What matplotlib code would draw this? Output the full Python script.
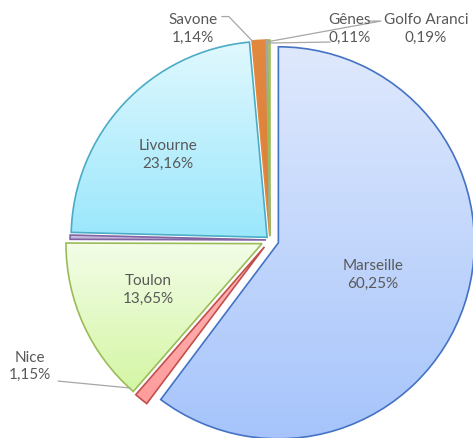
import numpy as np
import matplotlib
matplotlib.use("Agg")
import matplotlib.pyplot as plt
from matplotlib.colors import LinearSegmentedColormap

# Data (share of traffic per port, %)
ports = ["Marseille", "Nice", "Toulon", "", "Livourne", "Savone", "Gênes", "Golfo Aranci"]
shares = [60.25, 1.15, 13.65, 0.35, 23.16, 1.14, 0.11, 0.19]
pct_labels = ["60,25%", "1,15%", "13,65%", "", "23,16%", "1,14%", "0,11%", "0,19%"]

# Style
explode = [0.045, 0.045, 0.045, 0.02, 0.02, 0.02, 0.02, 0.02]
grad_top = ["#dfe9fd", "#ffb5b5", "#f3fde8", "#d3c7e6", "#e0f8fe", "#e2883f", "#b8b8b8", "#c9e2a8"]
grad_bot = ["#a6c4fb", "#ff9c9c", "#d4f6a4", "#b6a4d4", "#9be7fc", "#d9803a", "#a8a8a8", "#bcd894"]
edges = ["#4472c4", "#c0504d", "#9bbb59", "#8064a2", "#4bacc6", "#e7873a", "#a5a5a5", "#9bbb59"]
TXT = "#595959"
FS = 11
plt.rcParams["font.family"] = ["Lato", "DejaVu Sans"]

fig = plt.figure(figsize=(4.73, 4.39), dpi=100)
ax = fig.add_axes([0, 0, 1, 1])

wedges, _ = ax.pie(shares, explode=explode, startangle=90, counterclock=False,
                   radius=1.0, center=(0, 0),
                   wedgeprops=dict(linewidth=1.2), normalize=True)

for i, w in enumerate(wedges):
    w.set_facecolor("none")
    w.set_edgecolor(edges[i])
    w.set_zorder(3)
    bb = w.get_path().get_extents()
    cmap = LinearSegmentedColormap.from_list("g%d" % i, [grad_bot[i], grad_top[i]])
    grad = np.linspace(0, 1, 256).reshape(-1, 1)
    im = ax.imshow(grad, extent=[bb.x0, bb.x1, bb.y0, bb.y1], origin="lower",
                   cmap=cmap, aspect="auto", zorder=2, interpolation="bilinear")
    im.set_clip_path(w)

# label positions inside slices (data units, pie radius = 1)
inside = {0: (0.526, -0.173), 2: (-0.622, -0.25), 4: (-0.52, 0.439)}
for i, (x, y) in inside.items():
    ax.text(x, y, ports[i] + "\n" + pct_labels[i], ha="center", va="center",
            fontsize=FS, color=TXT, linespacing=1.3, zorder=5)

# outside labels and their leader lines (label side -> slice side)
outside = {
    1: dict(pos=(-1.224, -0.64), line=[(-1.08, -0.72), (-0.714, -0.755)]),
    5: dict(pos=(-0.393, 1.082), line=[(-0.245, 1.14), (-0.21, 1.14), (-0.09, 1.015)]),
    6: dict(pos=(0.408, 1.082), line=[(0.306, 1.01), (-0.01, 1.005)]),
    7: dict(pos=(0.796, 1.082), line=[(0.50, 1.117), (0.566, 1.117), (-0.02, 1.01)]),
}
for i, o in outside.items():
    x, y = o["pos"]
    ax.text(x, y, ports[i] + "\n" + pct_labels[i], ha="center", va="center",
            fontsize=FS, color=TXT, linespacing=1.3, zorder=5)
    pts = o["line"]
    ax.plot([p[0] for p in pts], [p[1] for p in pts], color="#a6a6a6", lw=0.9, zorder=4)

ax.set_xlim(-1.3776, 1.0357)
ax.set_ylim(-1.0102, 1.2296)
ax.set_aspect("equal")
ax.axis("off")

fig.savefig("out.png", dpi=100, facecolor="white")
